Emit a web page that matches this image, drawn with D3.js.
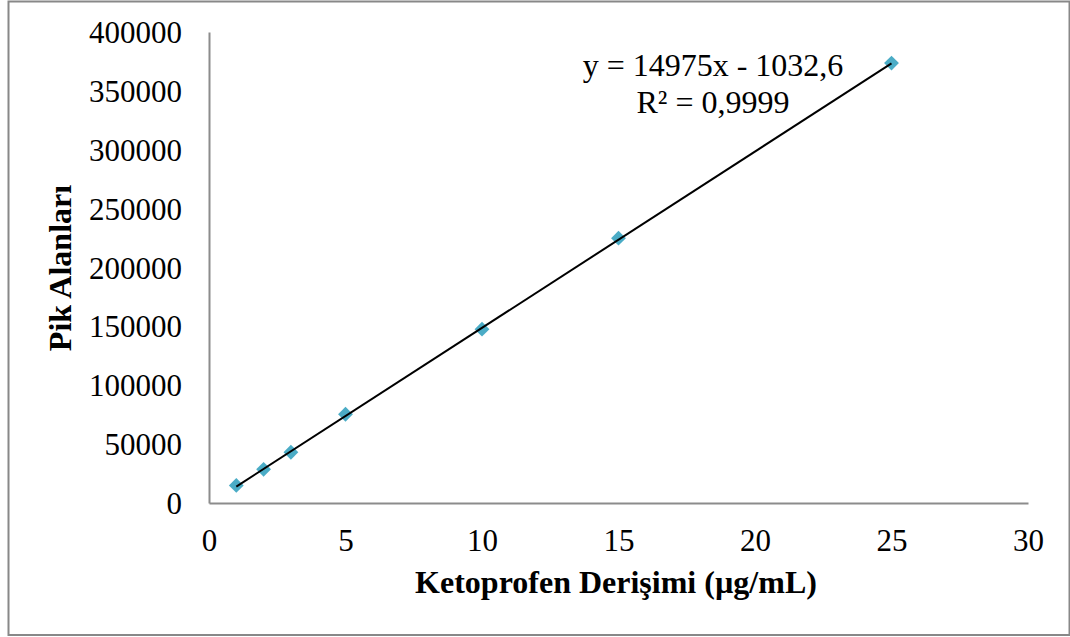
<!DOCTYPE html>
<html>
<head>
<meta charset="utf-8">
<script src="https://cdn.jsdelivr.net/npm/d3@7"></script>
<style>
  html, body { margin: 0; padding: 0; background: #fff; }
  svg { display: block; font-family: "Liberation Serif", "Times New Roman", serif; }
</style>
</head>
<body>
<svg id="chart" width="1070" height="637"></svg>
<script>
// Calibration data: ketoprofen concentration (µg/mL) vs. peak area
const concentrations = [1, 2, 3, 5, 10, 15, 25];
const peakAreas = [14900, 28600, 43100, 75400, 147600, 224900, 373600];
const xTicks = [0, 5, 10, 15, 20, 25, 30];
const yTicks = [0, 50000, 100000, 150000, 200000, 250000, 300000, 350000, 400000];
const slope = 14975;
const intercept = -1032.6;
const equationLines = ["y = 14975x - 1032,6", "R² = 0,9999"];

(function () {
  const svg = d3.select("#chart");
  const W = 1070, H = 637;

  // Chart frame
  svg.append("rect")
    .attr("x", 8.5).attr("y", 1.5)
    .attr("width", W - 9).attr("height", H - 3.5)
    .attr("fill", "#fff").attr("stroke", "#888").attr("stroke-width", 2);

  const m = { left: 209, right: 1028, top: 32, bottom: 503 };
  const x = d3.scaleLinear().domain([0, 30]).range([m.left, m.right]);
  const y = d3.scaleLinear().domain([0, 400000]).range([m.bottom, m.top]);

  // Axes
  const xAxis = svg.append("g").attr("transform", `translate(0,${m.bottom})`)
    .call(d3.axisBottom(x).tickValues(xTicks).tickSize(0).tickPadding(26).tickFormat(d3.format("d")));
  const yAxis = svg.append("g").attr("transform", `translate(${m.left},0)`)
    .call(d3.axisLeft(y).tickValues(yTicks).tickSize(0).tickPadding(27).tickFormat(d3.format("d")));

  [xAxis, yAxis].forEach(g => {
    g.select(".domain").attr("stroke", "#8c8c8c").attr("stroke-width", 2);
    g.selectAll("text").attr("fill", "#000")
      .style("font-family", "Liberation Serif, serif").style("font-size", "31px");
  });
  xAxis.selectAll("text").attr("dy", "0.71em");
  yAxis.selectAll("text").attr("dy", "0.34em");

  // Data markers (diamonds)
  svg.append("g").selectAll("path")
    .data(concentrations.map((c, i) => [c, peakAreas[i]]))
    .join("path")
    .attr("transform", d => `translate(${x(d[0])},${y(d[1])}) rotate(45)`)
    .attr("d", d3.symbol().type(d3.symbolSquare).size(110)())
    .attr("fill", "#4bacc6");

  // Linear trendline from the regression equation
  const trend = [1, 25].map(c => [c, slope * c + intercept]);
  svg.append("line")
    .attr("x1", x(trend[0][0])).attr("y1", y(trend[0][1]))
    .attr("x2", x(trend[1][0])).attr("y2", y(trend[1][1]))
    .attr("stroke", "#000").attr("stroke-width", 2);

  // Equation label
  const eq = svg.append("text").attr("text-anchor", "middle").attr("fill", "#000")
    .style("font-size", "32px");
  eq.append("tspan").attr("x", 713).attr("y", 76).text(equationLines[0]);
  eq.append("tspan").attr("x", 713).attr("y", 113).text(equationLines[1]);

  // Axis titles
  svg.append("text")
    .attr("x", 616).attr("y", 593)
    .attr("text-anchor", "middle").attr("font-weight", "bold")
    .style("font-size", "32px").text("Ketoprofen Derişimi (µg/mL)");
  svg.append("text")
    .attr("transform", `translate(71,268) rotate(-90)`)
    .attr("text-anchor", "middle").attr("font-weight", "bold")
    .style("font-size", "32px").text("Pik Alanları");
})();
</script>
</body>
</html>
